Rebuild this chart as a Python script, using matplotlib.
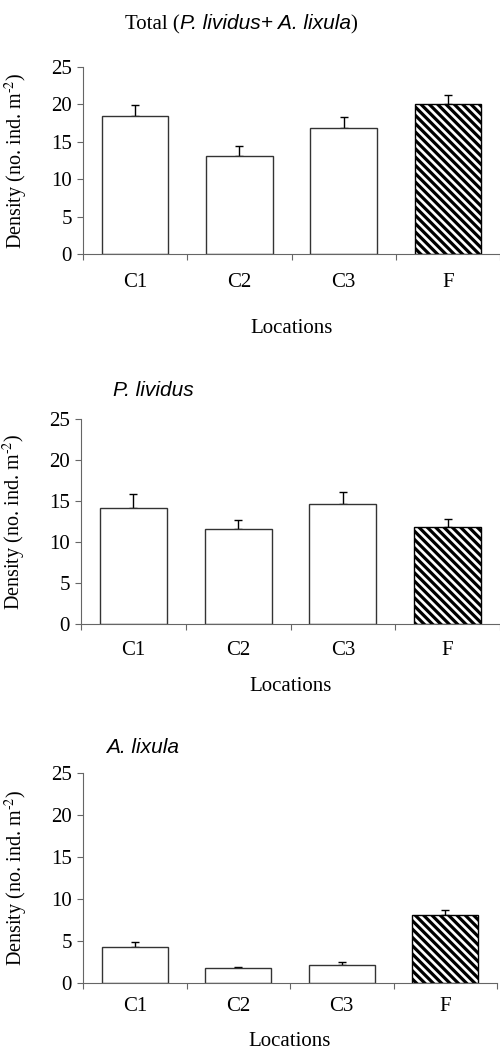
import matplotlib
matplotlib.use("Agg")
import matplotlib.pyplot as plt

# data (mean and upper SE bar)
locations = ["C1", "C2", "C3", "F"]
total_mean = [18.5, 13.1, 16.8, 20.0]
total_se = [1.4, 1.3, 1.5, 1.3]
lividus_mean = [14.2, 11.6, 14.7, 11.9]
lividus_se = [1.7, 1.1, 1.4, 1.0]
lixula_mean = [4.35, 1.75, 2.2, 8.05]
lixula_se = [0.5, 0.12, 0.35, 0.65]
y_ticks = [0, 5, 10, 15, 20, 25]

plt.rcParams["font.family"] = "Liberation Serif"
plt.rcParams["mathtext.fontset"] = "stix"
plt.rcParams["hatch.linewidth"] = 2.3

W, H = 500, 1051
fig = plt.figure(figsize=(W / 100, H / 100), dpi=100)

SERIF = dict(family="Liberation Serif", size=15)
SANS_IT = dict(family="Liberation Sans", style="italic", size=15)


def rich_text(x_px, y_px, pieces):
    # place text pieces one after another, starting at pixel x, baseline y
    r = fig.canvas.get_renderer()
    x = x_px
    for s, props in pieces:
        t = fig.text(x / W, 1 - y_px / H, s, va="baseline", ha="left", **props)
        x += t.get_window_extent(r).width


def panel(rect, means, ses, tick_pad, xlabel_y):
    ax = fig.add_axes(rect)
    xs = range(len(locations))
    bars = ax.bar(xs, means, width=0.64, color="white", edgecolor="#333333",
                  linewidth=1, zorder=2)
    bars[-1].set_hatch("\\\\\\\\")
    bars[-1].set_edgecolor("black")
    ax.errorbar(xs, means, yerr=[[0] * len(ses), ses], fmt="none",
                ecolor="black", elinewidth=1, capsize=3.2, capthick=1, zorder=1)

    ax.set_xlim(-0.5, len(locations) - 0.5)
    ax.set_ylim(0, 25)
    ax.set_yticks(y_ticks)
    ax.set_xticks(list(xs))
    ax.set_xticklabels(locations)
    ax.set_xticks([i - 0.5 for i in range(len(locations) + 1)], minor=True)
    ax.tick_params(axis="x", which="major", length=0, pad=tick_pad, labelsize=15)
    ax.tick_params(axis="x", which="minor", length=4.3, width=0.8, color="#666666")
    ax.tick_params(axis="y", length=4.3, width=0.8, color="#666666", pad=3.6,
                   labelsize=15)
    for side in ("top", "right"):
        ax.spines[side].set_visible(False)
    for side in ("left", "bottom"):
        ax.spines[side].set_color("#666666")
        ax.spines[side].set_linewidth(0.8)

    ax.set_ylabel(r"Density (no. ind. m$^{\text{-}2}$)", fontsize=14.5)
    ax.yaxis.set_label_coords(-0.127, 0.5)
    ax.set_xlabel("Locations", fontsize=15, va="top")
    ax.xaxis.set_label_coords(0.5, xlabel_y)
    return ax


panel([83 / W, 1 - 254 / H, 417 / W, 187 / H], total_mean, total_se, 14, -0.35)
panel([81 / W, 1 - 624.3 / H, 419 / W, 205 / H], lividus_mean, lividus_se, 12, -0.255)
panel([83 / W, 1 - 983 / H, 414 / W, 209.7 / H], lixula_mean, lixula_se, 10, -0.235)

rich_text(125, 29, [("Total (", SERIF), ("P. lividus+ A. lixula", SANS_IT), (")", SERIF)])
rich_text(113, 396, [("P. lividus", SANS_IT)])
rich_text(106, 752.7, [("A. lixula", SANS_IT)])

fig.savefig("out.png", dpi=100)
